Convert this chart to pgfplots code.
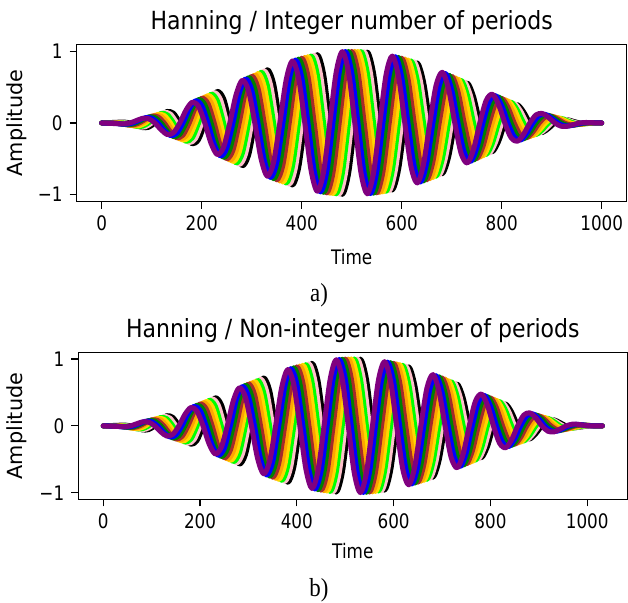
\documentclass[border=0pt]{standalone}
\usepackage{fontspec}
\setmainfont{DejaVu Sans}[FakeStretch=0.84]
\newfontfamily\titlefont{DejaVu Sans}[FakeStretch=0.88]
\newfontfamily\capfont{Liberation Serif}[FakeStretch=0.88]
\newfontfamily\ylabfont{DejaVu Sans}
\usepackage{pgfplots}
\pgfplotsset{compat=1.18}
\definecolor{mpurple}{HTML}{800080}
\definecolor{mblue}{HTML}{0000FF}
\definecolor{mgreen}{HTML}{008000}
\definecolor{mbrown}{HTML}{A52A2A}
\definecolor{morange}{HTML}{FFA500}
\definecolor{myellow}{HTML}{FFD700}
\definecolor{mlime}{HTML}{00FF00}
\definecolor{mpink}{HTML}{FFC0CB}
\pgfplotsset{
  hanax/.style={
    scale only axis,
    anchor=south west,
    ymin=-1.1, ymax=1.1,
    xtick={0,200,400,600,800,1000},
    xticklabels={0,200,400,600,800,1000},
    ytick={-1,0,1},
    yticklabels={−1,0,1},
    xtick pos=bottom, ytick pos=left,
    tick align=outside,
    major tick length=3.5pt,
    tick style={black, line width=0.6pt},
    axis line style={black, line width=0.6pt},
    tick label style={font=\fontsize{10}{12}\selectfont},
    /pgf/number format/assume math mode=true,
    every axis plot/.append style={line width=2.5pt, line join=round, line cap=round},
  }
}
\begin{document}
\begin{tikzpicture}
\path[use as bounding box] (0pt,0pt) rectangle (314pt,301.5pt);
% ---------------- panel a
\begin{axis}[hanax, at={(38.35pt,200.65pt)}, width=275pt, height=78.7pt, xmin=-50, xmax=1050]
\addplot[black, smooth] coordinates {(0,0)(31.25,0.010)(43.75,0.013)(56.25,0)(68.75,-0.032)(81.25,-0.064)(93.75,-0.060)(106.25,0)(118.75,0.094)(131.25,0.161)(143.75,0.135)(156.25,0)(168.75,-0.181)(181.25,-0.291)(193.75,-0.231)(206.25,0)(218.75,0.285)(231.25,0.441)(243.75,0.340)(256.25,0)(268.75,-0.395)(281.25,-0.598)(293.75,-0.450)(306.25,0)(318.75,0.502)(331.25,0.744)(343.75,0.550)(356.25,0)(368.75,-0.594)(381.25,-0.867)(393.75,-0.631)(406.25,0)(418.75,0.662)(431.25,0.954)(443.75,0.685)(456.25,0)(468.75,-0.700)(481.25,-0.997)(493.75,-0.707)(506.25,0)(518.75,0.705)(531.25,0.990)(543.75,0.694)(556.25,0)(568.75,-0.675)(581.25,-0.936)(593.75,-0.648)(606.25,0)(618.75,0.613)(631.25,0.839)(643.75,0.572)(656.25,0)(668.75,-0.526)(681.25,-0.709)(693.75,-0.476)(706.25,0)(718.75,0.423)(731.25,0.559)(743.75,0.367)(756.25,0)(768.75,-0.312)(781.25,-0.402)(793.75,-0.258)(806.25,0)(818.75,0.206)(831.25,0.256)(843.75,0.157)(856.25,0)(868.75,-0.114)(881.25,-0.133)(893.75,-0.076)(906.25,0)(918.75,0.045)(931.25,0.046)(943.75,0.022)(956.25,0)(968.75,-0.007)(981.25,-0.004)(1000,0)};
\addplot[mpink, smooth] coordinates {(0,0)(25,0.006)(37.5,0.010)(50,0)(62.5,-0.027)(75,-0.055)(87.5,-0.052)(100,0)(112.5,0.085)(125,0.146)(137.5,0.124)(150,0)(162.5,-0.169)(175,-0.273)(187.5,-0.218)(200,0)(212.5,0.271)(225,0.422)(237.5,0.326)(250,0)(262.5,-0.381)(275,-0.578)(287.5,-0.436)(300,0)(312.5,0.489)(325,0.727)(337.5,0.538)(350,0)(362.5,-0.583)(375,-0.854)(387.5,-0.622)(400,0)(412.5,0.655)(425,0.946)(437.5,0.680)(450,0)(462.5,-0.697)(475,-0.994)(487.5,-0.706)(500,0)(512.5,0.706)(525,0.994)(537.5,0.697)(550,0)(562.5,-0.680)(575,-0.946)(587.5,-0.655)(600,0)(612.5,0.622)(625,0.854)(637.5,0.583)(650,0)(662.5,-0.538)(675,-0.727)(687.5,-0.489)(700,0)(712.5,0.436)(725,0.578)(737.5,0.381)(750,0)(762.5,-0.326)(775,-0.422)(787.5,-0.271)(800,0)(812.5,0.218)(825,0.273)(837.5,0.169)(850,0)(862.5,-0.124)(875,-0.146)(887.5,-0.085)(900,0)(912.5,0.052)(925,0.055)(937.5,0.027)(950,0)(962.5,-0.010)(975,-0.006)(987.5,-0.001)(1000,0)};
\addplot[mlime, smooth] coordinates {(0,0)(43.75,0)(56.25,-0.022)(68.75,-0.046)(81.25,-0.045)(93.75,0)(106.25,0.076)(118.75,0.133)(131.25,0.114)(143.75,0)(156.25,-0.157)(168.75,-0.256)(181.25,-0.206)(193.75,0)(206.25,0.258)(218.75,0.402)(231.25,0.312)(243.75,0)(256.25,-0.367)(268.75,-0.559)(281.25,-0.423)(293.75,0)(306.25,0.476)(318.75,0.709)(331.25,0.526)(343.75,0)(356.25,-0.572)(368.75,-0.839)(381.25,-0.613)(393.75,0)(406.25,0.648)(418.75,0.936)(431.25,0.675)(443.75,0)(456.25,-0.694)(468.75,-0.990)(481.25,-0.705)(493.75,0)(506.25,0.707)(518.75,0.997)(531.25,0.700)(543.75,0)(556.25,-0.685)(568.75,-0.954)(581.25,-0.662)(593.75,0)(606.25,0.631)(618.75,0.867)(631.25,0.594)(643.75,0)(656.25,-0.550)(668.75,-0.744)(681.25,-0.502)(693.75,0)(706.25,0.450)(718.75,0.598)(731.25,0.395)(743.75,0)(756.25,-0.340)(768.75,-0.441)(781.25,-0.285)(793.75,0)(806.25,0.231)(818.75,0.291)(831.25,0.181)(843.75,0)(856.25,-0.135)(868.75,-0.161)(881.25,-0.094)(893.75,0)(906.25,0.060)(918.75,0.064)(931.25,0.032)(943.75,0)(956.25,-0.013)(968.75,-0.010)(981.25,-0.002)(993.75,0)(1000,0)};
\addplot[myellow, smooth] coordinates {(0,0)(37.5,0)(50,-0.017)(62.5,-0.038)(75,-0.039)(87.5,0)(100,0.068)(112.5,0.120)(125,0.104)(137.5,0)(150,-0.146)(162.5,-0.239)(175,-0.193)(187.5,0)(200,0.244)(212.5,0.383)(225,0.298)(237.5,0)(250,-0.354)(262.5,-0.539)(275,-0.409)(287.5,0)(300,0.463)(312.5,0.691)(325,0.514)(337.5,0)(350,-0.561)(362.5,-0.825)(375,-0.604)(387.5,0)(400,0.640)(412.5,0.926)(425,0.669)(437.5,0)(450,-0.690)(462.5,-0.986)(475,-0.703)(487.5,0)(500,0.707)(512.5,0.999)(525,0.703)(537.5,0)(550,-0.690)(562.5,-0.962)(575,-0.669)(587.5,0)(600,0.640)(612.5,0.880)(625,0.604)(637.5,0)(650,-0.561)(662.5,-0.761)(675,-0.514)(687.5,0)(700,0.463)(712.5,0.617)(725,0.409)(737.5,0)(750,-0.354)(762.5,-0.461)(775,-0.298)(787.5,0)(800,0.244)(812.5,0.309)(825,0.193)(837.5,0)(850,-0.146)(862.5,-0.175)(875,-0.104)(887.5,0)(900,0.068)(912.5,0.074)(925,0.039)(937.5,0)(950,-0.017)(962.5,-0.014)(975,-0.004)(987.5,0)(1000,0)};
\addplot[morange, smooth] coordinates {(0,0)(31.25,0)(43.75,-0.013)(56.25,-0.031)(68.75,-0.032)(81.25,0)(93.75,0.060)(106.25,0.107)(118.75,0.094)(131.25,0)(143.75,-0.135)(156.25,-0.222)(168.75,-0.181)(181.25,0)(193.75,0.231)(206.25,0.364)(218.75,0.285)(231.25,0)(243.75,-0.340)(256.25,-0.520)(268.75,-0.395)(281.25,0)(293.75,0.450)(306.25,0.673)(318.75,0.502)(331.25,0)(343.75,-0.550)(356.25,-0.810)(368.75,-0.594)(381.25,0)(393.75,0.631)(406.25,0.916)(418.75,0.662)(431.25,0)(443.75,-0.685)(456.25,-0.981)(468.75,-0.700)(481.25,0)(493.75,0.707)(506.25,1.000)(518.75,0.705)(531.25,0)(543.75,-0.694)(556.25,-0.969)(568.75,-0.675)(581.25,0)(593.75,0.648)(606.25,0.893)(618.75,0.613)(631.25,0)(643.75,-0.572)(656.25,-0.778)(668.75,-0.526)(681.25,0)(693.75,0.476)(706.25,0.636)(718.75,0.423)(731.25,0)(743.75,-0.367)(756.25,-0.480)(768.75,-0.312)(781.25,0)(793.75,0.258)(806.25,0.327)(818.75,0.206)(831.25,0)(843.75,-0.157)(856.25,-0.190)(868.75,-0.114)(881.25,0)(893.75,0.076)(906.25,0.084)(918.75,0.045)(931.25,0)(943.75,-0.022)(956.25,-0.019)(968.75,-0.007)(981.25,0)(1000,0)};
\addplot[mbrown, smooth] coordinates {(0,0)(25,0)(37.5,-0.010)(50,-0.024)(62.5,-0.027)(75,0)(87.5,0.052)(100,0.095)(112.5,0.085)(125,0)(137.5,-0.124)(150,-0.206)(162.5,-0.169)(175,0)(187.5,0.218)(200,0.345)(212.5,0.271)(225,0)(237.5,-0.326)(250,-0.500)(262.5,-0.381)(275,0)(287.5,0.436)(300,0.655)(312.5,0.489)(325,0)(337.5,-0.538)(350,-0.794)(362.5,-0.583)(375,0)(387.5,0.622)(400,0.905)(412.5,0.655)(425,0)(437.5,-0.680)(450,-0.976)(462.5,-0.697)(475,0)(487.5,0.706)(500,1.000)(512.5,0.706)(525,0)(537.5,-0.697)(550,-0.976)(562.5,-0.680)(575,0)(587.5,0.655)(600,0.905)(612.5,0.622)(625,0)(637.5,-0.583)(650,-0.794)(662.5,-0.538)(675,0)(687.5,0.489)(700,0.655)(712.5,0.436)(725,0)(737.5,-0.381)(750,-0.500)(762.5,-0.326)(775,0)(787.5,0.271)(800,0.345)(812.5,0.218)(825,0)(837.5,-0.169)(850,-0.206)(862.5,-0.124)(875,0)(887.5,0.085)(900,0.095)(912.5,0.052)(925,0)(937.5,-0.027)(950,-0.024)(962.5,-0.010)(975,0)(1000,0)};
\addplot[mgreen, smooth] coordinates {(0,0)(31.25,-0.007)(43.75,-0.019)(56.25,-0.022)(68.75,0)(81.25,0.045)(93.75,0.084)(106.25,0.076)(118.75,0)(131.25,-0.114)(143.75,-0.190)(156.25,-0.157)(168.75,0)(181.25,0.206)(193.75,0.327)(206.25,0.258)(218.75,0)(231.25,-0.312)(243.75,-0.480)(256.25,-0.367)(268.75,0)(281.25,0.423)(293.75,0.636)(306.25,0.476)(318.75,0)(331.25,-0.526)(343.75,-0.778)(356.25,-0.572)(368.75,0)(381.25,0.613)(393.75,0.893)(406.25,0.648)(418.75,0)(431.25,-0.675)(443.75,-0.969)(456.25,-0.694)(468.75,0)(481.25,0.705)(493.75,1.000)(506.25,0.707)(518.75,0)(531.25,-0.700)(543.75,-0.981)(556.25,-0.685)(568.75,0)(581.25,0.662)(593.75,0.916)(606.25,0.631)(618.75,0)(631.25,-0.594)(643.75,-0.810)(656.25,-0.550)(668.75,0)(681.25,0.502)(693.75,0.673)(706.25,0.450)(718.75,0)(731.25,-0.395)(743.75,-0.520)(756.25,-0.340)(768.75,0)(781.25,0.285)(793.75,0.364)(806.25,0.231)(818.75,0)(831.25,-0.181)(843.75,-0.222)(856.25,-0.135)(868.75,0)(881.25,0.094)(893.75,0.107)(906.25,0.060)(918.75,0)(931.25,-0.032)(943.75,-0.031)(956.25,-0.013)(968.75,0)(981.25,0.002)(1000,0)};
\addplot[mblue, smooth] coordinates {(0,0)(25,-0.004)(37.5,-0.014)(50,-0.017)(62.5,0)(75,0.039)(87.5,0.074)(100,0.068)(112.5,0)(125,-0.104)(137.5,-0.175)(150,-0.146)(162.5,0)(175,0.193)(187.5,0.309)(200,0.244)(212.5,0)(225,-0.298)(237.5,-0.461)(250,-0.354)(262.5,0)(275,0.409)(287.5,0.617)(300,0.463)(312.5,0)(325,-0.514)(337.5,-0.761)(350,-0.561)(362.5,0)(375,0.604)(387.5,0.880)(400,0.640)(412.5,0)(425,-0.669)(437.5,-0.962)(450,-0.690)(462.5,0)(475,0.703)(487.5,0.999)(500,0.707)(512.5,0)(525,-0.703)(537.5,-0.986)(550,-0.690)(562.5,0)(575,0.669)(587.5,0.926)(600,0.640)(612.5,0)(625,-0.604)(637.5,-0.825)(650,-0.561)(662.5,0)(675,0.514)(687.5,0.691)(700,0.463)(712.5,0)(725,-0.409)(737.5,-0.539)(750,-0.354)(762.5,0)(775,0.298)(787.5,0.383)(800,0.244)(812.5,0)(825,-0.193)(837.5,-0.239)(850,-0.146)(862.5,0)(875,0.104)(887.5,0.120)(900,0.068)(912.5,0)(925,-0.039)(937.5,-0.038)(950,-0.017)(962.5,0)(975,0.004)(987.5,0.002)(1000,0)};
\addplot[mpurple, smooth] coordinates {(0,0)(31.25,-0.010)(43.75,-0.013)(56.25,0)(68.75,0.032)(81.25,0.064)(93.75,0.060)(106.25,0)(118.75,-0.094)(131.25,-0.161)(143.75,-0.135)(156.25,0)(168.75,0.181)(181.25,0.291)(193.75,0.231)(206.25,0)(218.75,-0.285)(231.25,-0.441)(243.75,-0.340)(256.25,0)(268.75,0.395)(281.25,0.598)(293.75,0.450)(306.25,0)(318.75,-0.502)(331.25,-0.744)(343.75,-0.550)(356.25,0)(368.75,0.594)(381.25,0.867)(393.75,0.631)(406.25,0)(418.75,-0.662)(431.25,-0.954)(443.75,-0.685)(456.25,0)(468.75,0.700)(481.25,0.997)(493.75,0.707)(506.25,0)(518.75,-0.705)(531.25,-0.990)(543.75,-0.694)(556.25,0)(568.75,0.675)(581.25,0.936)(593.75,0.648)(606.25,0)(618.75,-0.613)(631.25,-0.839)(643.75,-0.572)(656.25,0)(668.75,0.526)(681.25,0.709)(693.75,0.476)(706.25,0)(718.75,-0.423)(731.25,-0.559)(743.75,-0.367)(756.25,0)(768.75,0.312)(781.25,0.402)(793.75,0.258)(806.25,0)(818.75,-0.206)(831.25,-0.256)(843.75,-0.157)(856.25,0)(868.75,0.114)(881.25,0.133)(893.75,0.076)(906.25,0)(918.75,-0.045)(931.25,-0.046)(943.75,-0.022)(956.25,0)(968.75,0.007)(981.25,0.004)(1000,0)};
\end{axis}
% ---------------- panel b
\begin{axis}[hanax, at={(39.15pt,51.75pt)}, width=274.5pt, height=73.6pt, xmin=-51.56, xmax=1082.8]
\addplot[black, smooth] coordinates {(0,0)(31.25,0.009)(43.75,0.012)(56.25,0)(68.75,-0.031)(81.25,-0.060)(93.75,-0.056)(106.25,0)(118.75,0.089)(131.25,0.152)(143.75,0.127)(156.25,0)(168.75,-0.171)(181.25,-0.275)(193.75,-0.219)(206.25,0)(218.75,0.270)(231.25,0.419)(243.75,0.323)(256.25,0)(268.75,-0.377)(281.25,-0.571)(293.75,-0.430)(306.25,0)(318.75,0.482)(331.25,0.716)(343.75,0.530)(356.25,0)(368.75,-0.575)(381.25,-0.842)(393.75,-0.614)(406.25,0)(418.75,0.647)(431.25,0.935)(443.75,0.674)(456.25,0)(468.75,-0.693)(481.25,-0.989)(493.75,-0.704)(506.25,0)(518.75,0.707)(531.25,0.998)(543.75,0.702)(556.25,0)(568.75,-0.689)(581.25,-0.960)(593.75,-0.668)(606.25,0)(618.75,0.640)(631.25,0.881)(643.75,0.605)(656.25,0)(668.75,-0.564)(681.25,-0.766)(693.75,-0.519)(706.25,0)(718.75,0.469)(731.25,0.627)(743.75,0.417)(756.25,0)(768.75,-0.364)(781.25,-0.476)(793.75,-0.310)(806.25,0)(818.75,0.257)(831.25,0.327)(843.75,0.207)(856.25,0)(868.75,-0.160)(881.25,-0.195)(893.75,-0.117)(906.25,0)(918.75,0.080)(931.25,0.090)(943.75,0.049)(956.25,0)(968.75,-0.025)(981.25,-0.023)(993.75,-0.009)(1006.25,0)(1018.75,0.001)(1031.25,0)};
\addplot[mpink, smooth] coordinates {(0,0)(25,0.006)(37.5,0.009)(50,0)(62.5,-0.025)(75,-0.051)(87.5,-0.049)(100,0)(112.5,0.080)(125,0.138)(137.5,0.117)(150,0)(162.5,-0.160)(175,-0.258)(187.5,-0.207)(200,0)(212.5,0.257)(225,0.401)(237.5,0.310)(250,0)(262.5,-0.364)(275,-0.552)(287.5,-0.417)(300,0)(312.5,0.469)(325,0.699)(337.5,0.519)(350,0)(362.5,-0.564)(375,-0.827)(387.5,-0.605)(400,0)(412.5,0.640)(425,0.926)(437.5,0.668)(450,0)(462.5,-0.689)(475,-0.985)(487.5,-0.702)(500,0)(512.5,0.707)(525,0.999)(537.5,0.704)(550,0)(562.5,-0.693)(575,-0.968)(587.5,-0.674)(600,0)(612.5,0.647)(625,0.893)(637.5,0.614)(650,0)(662.5,-0.575)(675,-0.782)(687.5,-0.530)(700,0)(712.5,0.482)(725,0.645)(737.5,0.430)(750,0)(762.5,-0.377)(775,-0.495)(787.5,-0.323)(800,0)(812.5,0.270)(825,0.345)(837.5,0.219)(850,0)(862.5,-0.171)(875,-0.210)(887.5,-0.127)(900,0)(912.5,0.089)(925,0.101)(937.5,0.056)(950,0)(962.5,-0.031)(975,-0.029)(987.5,-0.012)(1000,0)(1012.5,0.002)(1031.25,0)};
\addplot[mlime, smooth] coordinates {(0,0)(43.75,0)(56.25,-0.021)(68.75,-0.043)(81.25,-0.042)(93.75,0)(106.25,0.072)(118.75,0.125)(131.25,0.107)(143.75,0)(156.25,-0.148)(168.75,-0.242)(181.25,-0.195)(193.75,0)(206.25,0.244)(218.75,0.382)(231.25,0.297)(243.75,0)(256.25,-0.350)(268.75,-0.533)(281.25,-0.404)(293.75,0)(306.25,0.456)(318.75,0.681)(331.25,0.506)(343.75,0)(356.25,-0.553)(368.75,-0.813)(381.25,-0.595)(393.75,0)(406.25,0.631)(418.75,0.915)(431.25,0.661)(443.75,0)(456.25,-0.684)(468.75,-0.980)(481.25,-0.699)(493.75,0)(506.25,0.706)(518.75,1.000)(531.25,0.705)(543.75,0)(556.25,-0.696)(568.75,-0.974)(581.25,-0.679)(593.75,0)(606.25,0.655)(618.75,0.905)(631.25,0.623)(643.75,0)(656.25,-0.585)(668.75,-0.798)(681.25,-0.542)(693.75,0)(706.25,0.494)(718.75,0.663)(731.25,0.443)(743.75,0)(756.25,-0.391)(768.75,-0.514)(781.25,-0.337)(793.75,0)(806.25,0.283)(818.75,0.364)(831.25,0.232)(843.75,0)(856.25,-0.183)(868.75,-0.226)(881.25,-0.138)(893.75,0)(906.25,0.098)(918.75,0.113)(931.25,0.064)(943.75,0)(956.25,-0.036)(968.75,-0.036)(981.25,-0.016)(993.75,0)(1006.25,0.004)(1018.75,0.001)(1031.25,0)};
\addplot[myellow, smooth] coordinates {(0,0)(37.5,0)(50,-0.016)(62.5,-0.036)(75,-0.036)(87.5,0)(100,0.064)(112.5,0.113)(125,0.098)(137.5,0)(150,-0.138)(162.5,-0.226)(175,-0.183)(187.5,0)(200,0.232)(212.5,0.364)(225,0.283)(237.5,0)(250,-0.337)(262.5,-0.514)(275,-0.391)(287.5,0)(300,0.443)(312.5,0.663)(325,0.494)(337.5,0)(350,-0.542)(362.5,-0.798)(375,-0.585)(387.5,0)(400,0.623)(412.5,0.905)(425,0.655)(437.5,0)(450,-0.679)(462.5,-0.974)(475,-0.696)(487.5,0)(500,0.705)(512.5,1.000)(525,0.706)(537.5,0)(550,-0.699)(562.5,-0.980)(575,-0.684)(587.5,0)(600,0.661)(612.5,0.915)(625,0.631)(637.5,0)(650,-0.595)(662.5,-0.813)(675,-0.553)(687.5,0)(700,0.506)(712.5,0.681)(725,0.456)(737.5,0)(750,-0.404)(762.5,-0.533)(775,-0.350)(787.5,0)(800,0.297)(812.5,0.382)(825,0.244)(837.5,0)(850,-0.195)(862.5,-0.242)(875,-0.148)(887.5,0)(900,0.107)(912.5,0.125)(925,0.072)(937.5,0)(950,-0.042)(962.5,-0.043)(975,-0.021)(987.5,0)(1000,0.006)(1012.5,0.003)(1031.25,0)};
\addplot[morange, smooth] coordinates {(0,0)(31.25,0)(43.75,-0.012)(56.25,-0.029)(68.75,-0.031)(81.25,0)(93.75,0.056)(106.25,0.101)(118.75,0.089)(131.25,0)(143.75,-0.127)(156.25,-0.210)(168.75,-0.171)(181.25,0)(193.75,0.219)(206.25,0.345)(218.75,0.270)(231.25,0)(243.75,-0.323)(256.25,-0.495)(268.75,-0.377)(281.25,0)(293.75,0.430)(306.25,0.645)(318.75,0.482)(331.25,0)(343.75,-0.530)(356.25,-0.782)(368.75,-0.575)(381.25,0)(393.75,0.614)(406.25,0.893)(418.75,0.647)(431.25,0)(443.75,-0.674)(456.25,-0.968)(468.75,-0.693)(481.25,0)(493.75,0.704)(506.25,0.999)(518.75,0.707)(531.25,0)(543.75,-0.702)(556.25,-0.985)(568.75,-0.689)(581.25,0)(593.75,0.668)(606.25,0.926)(618.75,0.640)(631.25,0)(643.75,-0.605)(656.25,-0.827)(668.75,-0.564)(681.25,0)(693.75,0.519)(706.25,0.699)(718.75,0.469)(731.25,0)(743.75,-0.417)(756.25,-0.552)(768.75,-0.364)(781.25,0)(793.75,0.310)(806.25,0.401)(818.75,0.257)(831.25,0)(843.75,-0.207)(856.25,-0.258)(868.75,-0.160)(881.25,0)(893.75,0.117)(906.25,0.138)(918.75,0.080)(931.25,0)(943.75,-0.049)(956.25,-0.051)(968.75,-0.025)(981.25,0)(993.75,0.009)(1006.25,0.006)(1018.75,0.001)(1031.25,0)};
\addplot[mbrown, smooth] coordinates {(0,0)(25,0)(37.5,-0.009)(50,-0.023)(62.5,-0.025)(75,0)(87.5,0.049)(100,0.090)(112.5,0.080)(125,0)(137.5,-0.117)(150,-0.195)(162.5,-0.160)(175,0)(187.5,0.207)(200,0.327)(212.5,0.257)(225,0)(237.5,-0.310)(250,-0.476)(262.5,-0.364)(275,0)(287.5,0.417)(300,0.627)(312.5,0.469)(325,0)(337.5,-0.519)(350,-0.766)(362.5,-0.564)(375,0)(387.5,0.605)(400,0.881)(412.5,0.640)(425,0)(437.5,-0.668)(450,-0.960)(462.5,-0.689)(475,0)(487.5,0.702)(500,0.998)(512.5,0.707)(525,0)(537.5,-0.704)(550,-0.989)(562.5,-0.693)(575,0)(587.5,0.674)(600,0.935)(612.5,0.647)(625,0)(637.5,-0.614)(650,-0.842)(662.5,-0.575)(675,0)(687.5,0.530)(700,0.716)(712.5,0.482)(725,0)(737.5,-0.430)(750,-0.571)(762.5,-0.377)(775,0)(787.5,0.323)(800,0.419)(812.5,0.270)(825,0)(837.5,-0.219)(850,-0.275)(862.5,-0.171)(875,0)(887.5,0.127)(900,0.152)(912.5,0.089)(925,0)(937.5,-0.056)(950,-0.060)(962.5,-0.031)(975,0)(987.5,0.012)(1000,0.009)(1012.5,0.002)(1025,0)(1031.25,0)};
\addplot[mgreen, smooth] coordinates {(0,0)(31.25,-0.006)(43.75,-0.018)(56.25,-0.021)(68.75,0)(81.25,0.042)(93.75,0.079)(106.25,0.072)(118.75,0)(131.25,-0.107)(143.75,-0.180)(156.25,-0.148)(168.75,0)(181.25,0.195)(193.75,0.310)(206.25,0.244)(218.75,0)(231.25,-0.297)(243.75,-0.457)(256.25,-0.350)(268.75,0)(281.25,0.404)(293.75,0.609)(306.25,0.456)(318.75,0)(331.25,-0.506)(343.75,-0.750)(356.25,-0.553)(368.75,0)(381.25,0.595)(393.75,0.868)(406.25,0.631)(418.75,0)(431.25,-0.661)(443.75,-0.953)(456.25,-0.684)(468.75,0)(481.25,0.699)(493.75,0.996)(506.25,0.706)(518.75,0)(531.25,-0.705)(543.75,-0.993)(556.25,-0.696)(568.75,0)(581.25,0.679)(593.75,0.944)(606.25,0.655)(618.75,0)(631.25,-0.623)(643.75,-0.855)(656.25,-0.585)(668.75,0)(681.25,0.542)(693.75,0.733)(706.25,0.494)(718.75,0)(731.25,-0.443)(743.75,-0.590)(756.25,-0.391)(768.75,0)(781.25,0.337)(793.75,0.438)(806.25,0.283)(818.75,0)(831.25,-0.232)(843.75,-0.292)(856.25,-0.183)(868.75,0)(881.25,0.138)(893.75,0.165)(906.25,0.098)(918.75,0)(931.25,-0.064)(943.75,-0.069)(956.25,-0.036)(968.75,0)(981.25,0.016)(993.75,0.013)(1006.25,0.004)(1018.75,0)(1031.25,0)};
\addplot[mblue, smooth] coordinates {(0,0)(25,-0.004)(37.5,-0.013)(50,-0.016)(62.5,0)(75,0.036)(87.5,0.069)(100,0.064)(112.5,0)(125,-0.098)(137.5,-0.165)(150,-0.138)(162.5,0)(175,0.183)(187.5,0.292)(200,0.232)(212.5,0)(225,-0.283)(237.5,-0.438)(250,-0.337)(262.5,0)(275,0.391)(287.5,0.590)(300,0.443)(312.5,0)(325,-0.494)(337.5,-0.733)(350,-0.542)(362.5,0)(375,0.585)(387.5,0.855)(400,0.623)(412.5,0)(425,-0.655)(437.5,-0.944)(450,-0.679)(462.5,0)(475,0.696)(487.5,0.993)(500,0.705)(512.5,0)(525,-0.706)(537.5,-0.996)(550,-0.699)(562.5,0)(575,0.684)(587.5,0.953)(600,0.661)(612.5,0)(625,-0.631)(637.5,-0.868)(650,-0.595)(662.5,0)(675,0.553)(687.5,0.750)(700,0.506)(712.5,0)(725,-0.456)(737.5,-0.609)(750,-0.404)(762.5,0)(775,0.350)(787.5,0.457)(800,0.297)(812.5,0)(825,-0.244)(837.5,-0.310)(850,-0.195)(862.5,0)(875,0.148)(887.5,0.180)(900,0.107)(912.5,0)(925,-0.072)(937.5,-0.079)(950,-0.042)(962.5,0)(975,0.021)(987.5,0.018)(1000,0.006)(1012.5,0)(1031.25,0)};
\addplot[mpurple, smooth] coordinates {(0,0)(31.25,-0.009)(43.75,-0.012)(56.25,0)(68.75,0.031)(81.25,0.060)(93.75,0.056)(106.25,0)(118.75,-0.089)(131.25,-0.152)(143.75,-0.127)(156.25,0)(168.75,0.171)(181.25,0.275)(193.75,0.219)(206.25,0)(218.75,-0.270)(231.25,-0.419)(243.75,-0.323)(256.25,0)(268.75,0.377)(281.25,0.571)(293.75,0.430)(306.25,0)(318.75,-0.482)(331.25,-0.716)(343.75,-0.530)(356.25,0)(368.75,0.575)(381.25,0.842)(393.75,0.614)(406.25,0)(418.75,-0.647)(431.25,-0.935)(443.75,-0.674)(456.25,0)(468.75,0.693)(481.25,0.989)(493.75,0.704)(506.25,0)(518.75,-0.707)(531.25,-0.998)(543.75,-0.702)(556.25,0)(568.75,0.689)(581.25,0.960)(593.75,0.668)(606.25,0)(618.75,-0.640)(631.25,-0.881)(643.75,-0.605)(656.25,0)(668.75,0.564)(681.25,0.766)(693.75,0.519)(706.25,0)(718.75,-0.469)(731.25,-0.627)(743.75,-0.417)(756.25,0)(768.75,0.364)(781.25,0.476)(793.75,0.310)(806.25,0)(818.75,-0.257)(831.25,-0.327)(843.75,-0.207)(856.25,0)(868.75,0.160)(881.25,0.195)(893.75,0.117)(906.25,0)(918.75,-0.080)(931.25,-0.090)(943.75,-0.049)(956.25,0)(968.75,0.025)(981.25,0.023)(993.75,0.009)(1006.25,0)(1018.75,-0.001)(1031.25,0)};
\end{axis}
% ---------------- texts
\node[font=\titlefont\fontsize{12.5}{14}\selectfont, anchor=base] at (175.85pt,286.5pt) {Hanning / Integer number of periods};
\node[font=\titlefont\fontsize{12.5}{14}\selectfont, anchor=base] at (176.4pt,132.5pt) {Hanning / Non-integer number of periods};
\node[font=\fontsize{10}{12}\selectfont, inner sep=0] at (175.85pt,173pt) {Time};
\node[font=\fontsize{10}{12}\selectfont, inner sep=0] at (176.4pt,26pt) {Time};
\node[font=\ylabfont\fontsize{10.4}{12}\selectfont, rotate=90, inner sep=0] at (8.5pt,240pt) {Amplitude};
\node[font=\ylabfont\fontsize{10.4}{12}\selectfont, rotate=90, inner sep=0] at (8.5pt,88.5pt) {Amplitude};
\node[font=\capfont\fontsize{13}{15}\selectfont, inner sep=0] at (159.5pt,154pt) {a)};
\node[font=\capfont\fontsize{13}{15}\selectfont, inner sep=0] at (159.5pt,6.5pt) {b)};
\end{tikzpicture}
\end{document}
